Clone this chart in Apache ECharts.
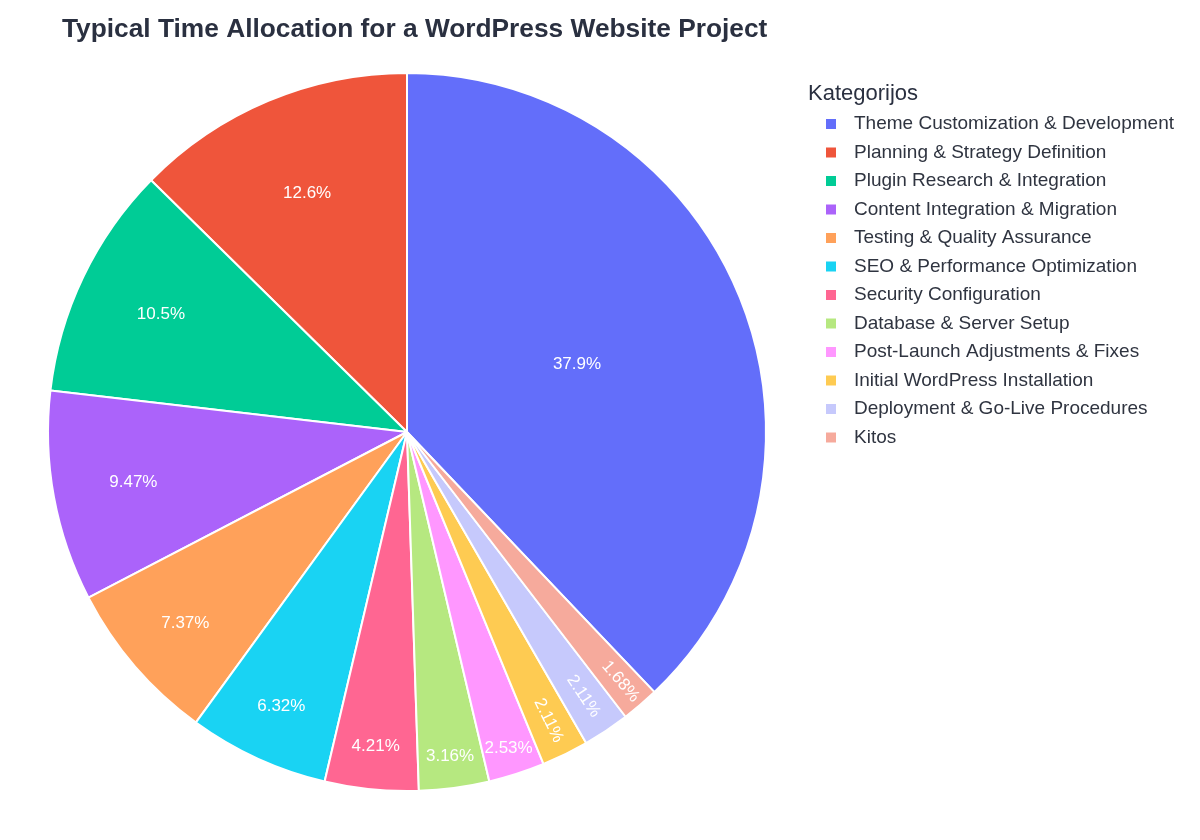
<!DOCTYPE html>
<html>
<head>
<meta charset="utf-8">
<script src="https://cdn.jsdelivr.net/npm/echarts@6/dist/echarts.min.js"></script>
<style>
  html, body { margin: 0; padding: 0; background: #fff; }
  #main { width: 1200px; height: 840px; }
</style>
</head>
<body>
<div id="main"></div>
<script>
// kategorijos ir valandos
var categories = [
    'Theme Customization & Development',
    'Planning & Strategy Definition',
    'Plugin Research & Integration',
    'Content Integration & Migration',
    'Testing & Quality Assurance',
    'SEO & Performance Optimization',
    'Security Configuration',
    'Database & Server Setup',
    'Post-Launch Adjustments & Fixes',
    'Initial WordPress Installation',
    'Deployment & Go-Live Procedures',
    'Kitos'
];
var hours = [180, 60, 50, 45, 35, 30, 20, 15, 12, 10, 10, 8];

var colors = ['#636efa', '#ef553b', '#00cc96', '#ab63fa', '#ffa15a', '#19d3f3',
    '#ff6692', '#b6e880', '#ff97ff', '#fecb52', '#c6c9fc', '#f6aa9c'];
// kur dėti procentų užrašą (dalis spindulio)
var labelRadius = [0.51, 0.72, 0.76, 0.775, 0.815, 0.84, 0.88, 0.91, 0.925, 0.895, 0.885, 0.915];
var rotated = [false, false, false, false, false, false, false, false, false, true, true, true];

var cx = 407, cy = 432, R = 359;
var total = hours.reduce(function (a, b) { return a + b; }, 0);
// pirma dalis baigiasi ties 12 val., einama prieš laikrodžio rodyklę
var start = 90 - hours[0] / total * 360;

// kiekvienos dalies vidurio kampas
var midAngle = [];
var acc = 0;
hours.forEach(function (v) {
    midAngle.push(start + (acc + v / 2) / total * 360);
    acc += v;
});

var pieData = categories.map(function (name, i) {
    var item = { name: name, value: hours[i], itemStyle: { color: colors[i] } };
    if (rotated[i]) {
        item.label = { rotate: 'radial' };
    }
    return item;
});

var myChart = echarts.init(document.getElementById('main'));

var option = {
    backgroundColor: '#fff',
    animation: false,
    title: [{
        text: 'Typical Time Allocation for a WordPress Website Project',
        left: 57,
        top: 12,
        textStyle: {
            fontFamily: 'Liberation Sans, Arial, sans-serif',
            fontSize: 26.3,
            fontWeight: 'bold',
            color: '#2a3040'
        }
    }, {
        text: 'Kategorijos',
        left: 803,
        top: 78,
        textStyle: {
            fontFamily: 'Liberation Sans, Arial, sans-serif',
            fontSize: 22,
            fontWeight: 'normal',
            color: '#2a3040'
        }
    }],
    legend: {
        orient: 'vertical',
        left: 819,
        top: 109,
        icon: 'rect',
        itemWidth: 12,
        itemHeight: 12,
        itemGap: 8.5,
        selectedMode: false,
        data: categories,
        textStyle: {
            fontFamily: 'Liberation Sans, Arial, sans-serif',
            fontSize: 19,
            lineHeight: 20,
            color: '#2f3440',
            padding: [0, 0, 0, 12]
        }
    },
    series: [{
        name: 'Laikas',
        type: 'pie',
        center: [cx, cy],
        radius: R,
        startAngle: start,
        clockwise: false,
        avoidLabelOverlap: false,
        itemStyle: {
            borderColor: '#fff',
            borderWidth: 2
        },
        label: {
            show: true,
            position: 'inside',
            color: '#fff',
            fontFamily: 'Liberation Sans, Arial, sans-serif',
            fontSize: 17,
            formatter: function (p) {
                return (p.value / total * 100).toPrecision(3) + '%';
            }
        },
        labelLine: { show: false },
        labelLayout: function (params) {
            var i = params.dataIndex;
            var a = midAngle[i] * Math.PI / 180;
            var rr = labelRadius[i] * R;
            return {
                x: cx + Math.cos(a) * rr,
                y: cy - Math.sin(a) * rr
            };
        },
        emphasis: { disabled: true },
        data: pieData
    }]
};

myChart.setOption(option);
</script>
</body>
</html>
